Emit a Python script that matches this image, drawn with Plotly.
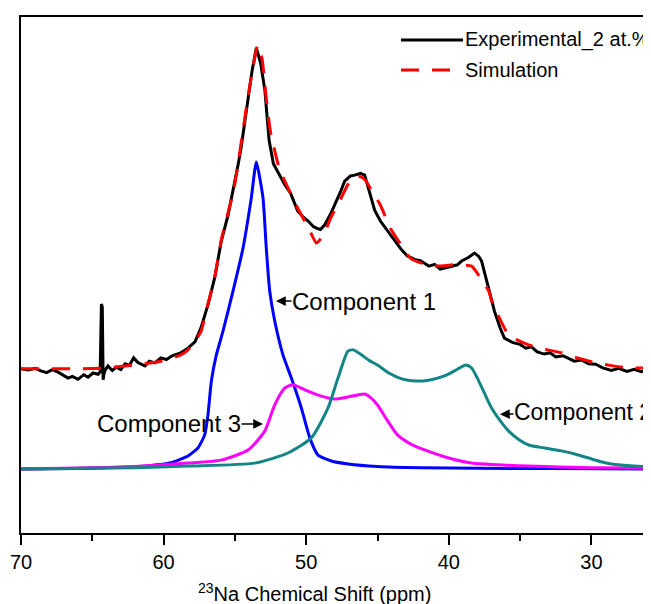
import plotly.graph_objects as go

# ---- data (ppm, intensity in arbitrary units) ----
exp_ppm = [70.0, 69.5, 69.0, 68.6, 68.2, 67.8, 67.4, 67.0, 66.7, 66.4, 66.0, 65.6, 65.3, 64.95, 64.6, 64.45,
           64.36, 64.30, 64.24, 64.18, 64.1, 63.9, 63.6, 63.3, 63.0, 62.7, 62.4, 62.1, 61.8, 61.5, 61.3, 61.0,
           60.6, 60.2, 59.8, 59.4, 58.8, 58.29, 57.8, 57.38, 56.89, 56.42, 55.95, 55.48, 55.13, 54.78,
           54.57, 54.1, 53.8, 53.5, 53.2, 52.9, 52.6, 52.3, 51.9, 51.5, 51.1, 50.6, 50.2, 49.87, 49.5, 49.29,
           49.0, 48.7, 48.3, 48.0, 47.6, 47.3, 46.9, 46.6, 46.2, 45.9, 45.5, 45.2, 44.8, 44.3, 43.8, 43.3,
           42.9, 42.4, 42.0, 41.4, 41.0, 40.6, 40.0, 39.4, 39.1, 38.6, 38.2, 37.9, 37.7, 37.3, 37.0, 36.8,
           36.4, 36.1, 35.5, 35.0, 34.6, 34.2, 33.8, 33.3, 32.9, 32.5, 32.0, 31.6, 31.2, 30.7, 30.2, 29.7,
           29.2, 28.6, 28.1, 27.5, 27.0, 26.5, 26.0, 25.3]
exp_int = [23.8, 23.5, 23.9, 23.3, 22.9, 23.6, 23.0, 22.3, 21.6, 22.0, 21.3, 22.4, 21.8, 22.8, 22.5, 23.0,
           39.2, 38.5, 21.2, 22.6, 23.5, 24.5, 23.4, 24.2, 23.6, 25.0, 24.6, 26.4, 25.3, 24.8, 24.5, 25.6,
           25.2, 26.4, 26.0, 26.9, 27.6, 28.7, 30.2, 33.5, 39.0, 45.4, 54.2, 60.3, 66.0, 72.2,
           76.2, 87.4, 94.5, 100.0, 96.5, 90.0, 78.0, 72.5, 69.8, 67.5, 65.5, 61.3, 59.8, 58.9, 57.6, 57.2,
           56.9, 58.0, 60.5, 62.7, 65.8, 68.4, 69.6, 69.8, 70.2, 69.8, 65.1, 61.5, 58.9, 56.5, 54.2, 52.0,
           50.6, 49.8, 49.5, 48.2, 48.6, 47.5, 48.0, 48.5, 49.4, 50.3, 51.3, 50.5, 49.4, 44.0, 39.9, 37.5,
           33.5, 31.1, 30.0, 29.6, 28.7, 29.0, 27.8, 27.3, 27.6, 26.6, 26.9, 26.2, 25.6, 25.9, 25.0, 24.9,
           24.0, 23.4, 23.9, 23.2, 23.7, 23.1, 23.6, 23.4]

sim_ppm = [70.0, 66.0, 64.0, 62.1, 60.2, 58.8, 58.29, 57.4, 56.9, 56.4, 55.95, 55.5, 55.1, 54.8, 54.1, 53.7,
           53.4, 53.1, 52.8, 52.5, 51.9, 51.5, 50.6, 49.8, 49.29, 48.8, 48.3, 47.6, 47.0, 46.4, 45.9, 45.3,
           44.8, 44.1, 43.4, 42.7, 41.8, 40.8, 39.6, 38.4, 37.8, 37.2, 37.0, 36.4, 35.8, 35.1, 34.4, 33.2,
           32.1, 30.9, 29.7, 28.5, 27.4, 25.3]
sim_int = [23.8, 23.8, 24.0, 24.7, 25.6, 27.1, 28.3, 32.5, 39.0, 45.8, 54.5, 60.6, 66.0, 72.0, 88.0, 96.0,
           100.7, 97.5, 88.0, 80.0, 71.5, 68.4, 62.0, 57.0, 53.7, 55.5, 59.5, 64.0, 68.0, 69.6, 68.8, 65.5,
           62.7, 57.2, 53.5, 50.1, 48.8, 48.2, 48.5, 48.2, 45.5, 42.3, 40.0, 35.5, 31.8, 30.5, 29.5, 28.4,
           27.6, 26.3, 25.2, 24.5, 24.0, 24.0]

c1_ppm = [70.0, 66.0, 63.0, 61.0, 59.5, 58.29, 57.59, 57.12, 56.89, 56.65, 56.30, 55.83, 55.13, 54.43, 53.85,
          53.50, 53.03, 52.80, 52.56, 52.21, 51.63, 51.04, 50.34, 49.75, 49.17, 48.24, 47.07, 45.0, 42.0,
          38.0, 33.0, 25.3]
c1_int = [0.0, 0.1, 0.4, 0.8, 1.5, 3.1, 5.0, 8.1, 12.8, 20.9, 27.1, 32.8, 42.3, 52.5, 64.4,
          72.9, 64.4, 52.5, 42.3, 35.2, 27.1, 21.6, 14.5, 7.4, 3.3, 1.9, 1.2, 0.6, 0.3,
          0.15, 0.1, 0.0]

c2_ppm = [70.0, 62.0, 58.29, 53.61, 51.28, 49.64, 48.47, 47.77, 47.07, 46.7, 46.2,
          45.6, 45.0, 44.2, 43.3, 42.4, 41.4, 40.3, 39.6, 38.8, 38.4, 38.0, 37.5, 37.0, 36.4, 35.8, 35.1,
          34.4, 33.3, 32.1, 31.1, 30.2, 29.4, 28.6, 27.0, 25.3]
c2_int = [0.0, 0.3, 0.7, 1.4, 3.8, 7.4, 14.5, 21.6, 28.0, 28.3, 27.3,
          25.8, 24.7, 22.8, 21.4, 20.9, 21.1, 22.1, 23.3, 24.7, 24.0, 21.6, 18.0, 14.5, 11.5, 9.0, 7.0,
          5.7, 5.0, 4.3, 3.5, 2.6, 1.8, 1.2, 0.7, 0.5]

c3_ppm = [70.0, 65.0, 62.0, 58.29, 55.97, 54.08, 52.91, 52.21, 51.51, 50.93, 50.1, 48.94, 48.0, 47.07,
          45.9, 45.5, 45.0, 44.3, 43.6, 42.6, 41.5, 40.0, 38.4, 36.0, 34.4, 30.0, 25.3]
c3_int = [0.0, 0.3, 0.6, 1.4, 2.1, 4.5, 9.0, 15.2, 19.2, 20.0, 18.8, 17.3, 16.6, 17.1,
          17.8, 17.0, 15.2, 11.5, 8.1, 5.8, 4.3, 2.6, 1.4, 0.9, 0.7, 0.3, 0.2]

x_ticks = [70, 60, 50, 40, 30]
x_minor = [65, 55, 45, 35]
legend_names = ["Experimental_2 at.%", "Simulation"]
comp_labels = ["Component 1", "Component 2", "Component 3"]

FONT = "Arial, Liberation Sans, sans-serif"
W, H = 651, 604
L, R, T, B = 13, 0, 9, 79
pw, ph = W - L - R, H - T - B

def px(xp):
    return (xp - L) / pw

def py(yp):
    return (H - B - yp) / ph

fig = go.Figure()
fig.add_trace(go.Scatter(x=c1_ppm, y=c1_int, mode="lines", line=dict(color="#0000FF", width=3, shape="spline", smoothing=0.5), showlegend=False))
fig.add_trace(go.Scatter(x=c3_ppm, y=c3_int, mode="lines", line=dict(color="#FF00FF", width=3, shape="spline", smoothing=0.6), showlegend=False))
fig.add_trace(go.Scatter(x=c2_ppm, y=c2_int, mode="lines", line=dict(color="#138585", width=3, shape="spline", smoothing=0.6), showlegend=False))
fig.add_trace(go.Scatter(x=exp_ppm, y=exp_int, mode="lines", line=dict(color="black", width=3), showlegend=False))
fig.add_trace(go.Scatter(x=sim_ppm, y=sim_int, mode="lines", line=dict(color="#FF0000", width=3, dash="18px,13px", shape="spline", smoothing=0.5), showlegend=False))

fig.update_layout(
    width=W, height=H,
    margin=dict(l=L, r=R, t=T, b=B),
    plot_bgcolor="white", paper_bgcolor="white",
    font=dict(family=FONT, size=20, color="black"),
    xaxis=dict(range=[70, 25.26], tickvals=x_ticks, ticktext=[str(v) for v in x_ticks],
               showline=True, linecolor="black", linewidth=2, mirror=True,
               ticks="outside", ticklen=10, tickwidth=2, tickcolor="black",
               minor=dict(tickvals=x_minor, ticklen=6, tickwidth=2, tickcolor="black", ticks="outside"),
               showgrid=False, zeroline=False, tickfont=dict(size=20)),
    yaxis=dict(range=[-15.2, 107.36], showline=True, linecolor="black", linewidth=2,
               showticklabels=False, ticks="", showgrid=False, zeroline=False),
)

# manual legend
fig.add_shape(type="line", xref="paper", yref="paper", x0=px(393), x1=px(455), y0=py(32), y1=py(32),
              line=dict(color="black", width=3))
fig.add_shape(type="line", xref="paper", yref="paper", x0=px(393), x1=px(443), y0=py(62), y1=py(62),
              line=dict(color="#FF0000", width=3, dash="18px,13px"))
for name, yp in zip(legend_names, [32, 62]):
    fig.add_annotation(xref="paper", yref="paper", x=px(456), y=py(yp), text=name, showarrow=False,
                       xanchor="left", yanchor="middle", borderpad=0, font=dict(size=20))

# axis title
fig.add_annotation(xref="paper", yref="paper", x=px(306), y=py(584),
                   text="<sup>23</sup>Na Chemical Shift (ppm)", showarrow=False,
                   xanchor="center", yanchor="middle", borderpad=0, font=dict(size=20))

# component labels with arrows (arrow tip on the curve, text offset in pixels)
arrow_kw = dict(showarrow=True, arrowhead=2, arrowsize=1.3, arrowwidth=1.5, arrowcolor="black",
                borderpad=0, standoff=0, startstandoff=0)
fig.add_annotation(x=52.12, y=39.9, ax=88, ay=0, text=comp_labels[0], font=dict(size=24), **arrow_kw)
fig.add_annotation(x=36.41, y=13.0, ax=83, ay=-2, text=comp_labels[1], font=dict(size=23), **arrow_kw)
fig.add_annotation(x=53.03, y=10.7, ax=-94, ay=0, text=comp_labels[2], font=dict(size=24), **arrow_kw)

fig.write_html("out.html")
